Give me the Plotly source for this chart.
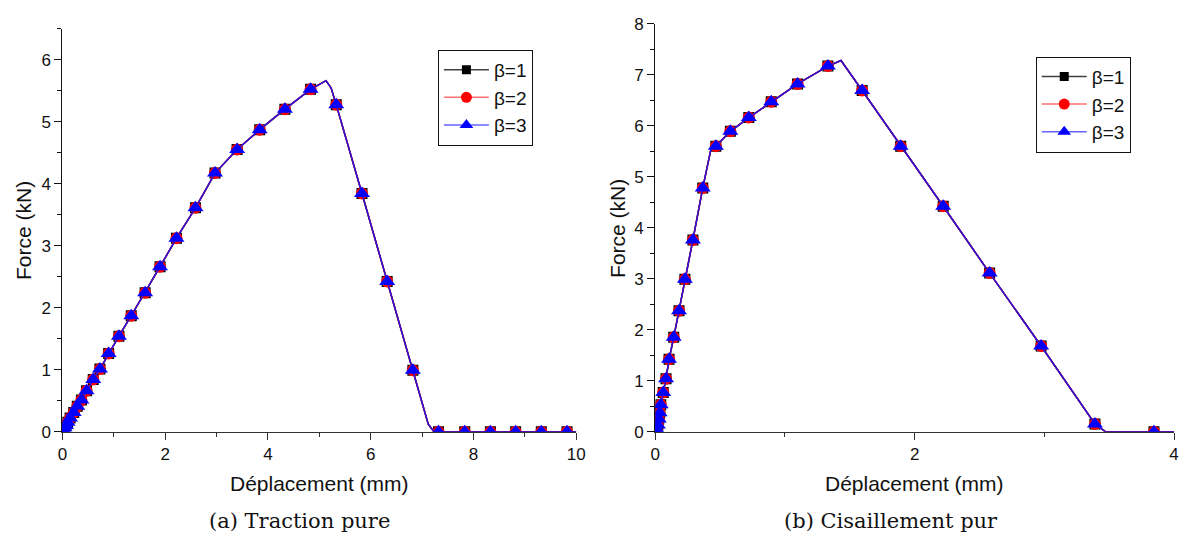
import plotly.graph_objects as go

# ---------------- data ----------------
# (a) Traction pure : displacement (mm), force (kN); mark = 1 where a symbol is drawn
disp_a = [0, 0.02, 0.04, 0.07, 0.10, 0.15, 0.22, 0.29, 0.37, 0.47, 0.60, 0.73, 0.90, 1.10,
          1.34, 1.61, 1.90, 2.22, 2.59, 2.97, 3.40, 3.84, 4.33, 4.83, 5.13, 5.23, 5.33,
          5.83, 6.32, 6.82, 7.12, 7.23, 7.32, 7.83, 8.33, 8.82, 9.32, 9.82, 10.0]
force_a = [0, 0.03, 0.06, 0.10, 0.15, 0.22, 0.31, 0.41, 0.51, 0.66, 0.84, 1.01, 1.26, 1.54,
           1.87, 2.24, 2.66, 3.12, 3.61, 4.17, 4.55, 4.87, 5.20, 5.52, 5.66, 5.54, 5.27,
           3.84, 2.42, 0.99, 0.12, 0, 0, 0, 0, 0, 0, 0, 0]
mark_a = [1, 1, 1, 1, 1, 1, 1, 1, 1, 1, 1, 1, 1, 1,
          1, 1, 1, 1, 1, 1, 1, 1, 1, 1, 0, 0, 1,
          1, 1, 1, 0, 0, 1, 1, 1, 1, 1, 1, 0]

# (b) Cisaillement pur
disp_b = [0, 0.01, 0.02, 0.027, 0.034, 0.042, 0.061, 0.083, 0.106, 0.142, 0.183, 0.228,
          0.29, 0.366, 0.43, 0.467, 0.579, 0.721, 0.894, 1.097, 1.331, 1.432, 1.595,
          1.892, 2.22, 2.578, 2.975, 3.39, 3.47, 3.845, 4.0]
force_b = [0, 0.05, 0.13, 0.25, 0.37, 0.53, 0.77, 1.04, 1.42, 1.85, 2.37, 2.99,
           3.76, 4.78, 5.55, 5.60, 5.89, 6.16, 6.47, 6.82, 7.17, 7.28, 6.69,
           5.60, 4.42, 3.11, 1.68, 0.15, 0, 0, 0]
mark_b = [1, 1, 1, 1, 1, 1, 1, 1, 1, 1, 1, 1,
          1, 1, 0, 1, 1, 1, 1, 1, 1, 0, 1,
          1, 1, 1, 1, 1, 0, 1, 0]

series_names = ["β=1", "β=2", "β=3"]

x_ticks_a = [0, 2, 4, 6, 8, 10]
y_ticks_a = [0, 1, 2, 3, 4, 5, 6]
x_ticks_b = [0, 2, 4]
y_ticks_b = [0, 1, 2, 3, 4, 5, 6, 7, 8]

# ---------------- styles ----------------
line_colors = ["#000000", "#ff0000", "#0000ff"]
main_line_colors = ["#000000", "#ff0000", "#2a10e0"]
legend_line_colors = ["#404040", "#ff7070", "#6464ff"]
symbols = ["square", "circle", "triangle-up"]
msizes = [11, 12, 14]
legend_msizes = [9, 11, 12]

# the page keeps the browser's 8px body margin, so the figure is 16px smaller
OFF = 8
W, H = 1197 - 2 * OFF, 549 - 2 * OFF


def px(x):
    return (x - OFF) / W


def py(y):
    return 1 - (y - OFF) / H


SANS = "Liberation Sans, Arial, sans-serif"
SERIF = "DejaVu Serif, serif"

fig = go.Figure()

panels = [
    (disp_a, force_a, mark_a, "x", "y", "legend"),
    (disp_b, force_b, mark_b, "x2", "y2", "legend2"),
]

for xs, ys, mk, xa, ya, lg in panels:
    for i, name in enumerate(series_names):
        fig.add_trace(go.Scatter(
            x=xs, y=ys, mode="lines", xaxis=xa, yaxis=ya, showlegend=False,
            line=dict(color=main_line_colors[i], width=1.5), hoverinfo="skip"))
        mx = [v for v, m in zip(xs, mk) if m]
        my = [v for v, m in zip(ys, mk) if m]
        fig.add_trace(go.Scatter(
            x=mx, y=my, mode="markers", xaxis=xa, yaxis=ya, showlegend=False,
            marker=dict(symbol=symbols[i], size=msizes[i], color=line_colors[i],
                        line=dict(width=0)), name=name))
    for i, name in enumerate(series_names):
        fig.add_trace(go.Scatter(
            x=[None], y=[None], mode="lines+markers", xaxis=xa, yaxis=ya, name=name,
            legend=lg, showlegend=True,
            line=dict(color=legend_line_colors[i], width=1.5),
            marker=dict(symbol=symbols[i], size=legend_msizes[i], color=line_colors[i],
                        line=dict(width=0))))


def axis(domain, rng, tickvals, minor_dtick, anchor, color):
    return dict(
        domain=domain, range=rng, anchor=anchor, tickmode="array", tickvals=tickvals,
        ticks="outside", ticklen=7, tickwidth=1.2, tickcolor=color,
        minor=dict(dtick=minor_dtick, tick0=0, ticks="outside", ticklen=4,
                   tickwidth=1.2, tickcolor=color, showgrid=False),
        showline=True, linecolor=color, linewidth=1.3, showgrid=False, zeroline=False,
        ticklabeloverflow="allow",
        tickfont=dict(family=SANS, size=17, color="#111111"), fixedrange=True)


legend_common = dict(xanchor="left", yanchor="top", bordercolor="#111111", borderwidth=1,
                     bgcolor="white", font=dict(family=SANS, size=19, color="#111111"),
                     tracegroupgap=0, itemwidth=45)

fig.update_layout(
    width=W, height=H, margin=dict(l=0, r=0, t=0, b=0),
    paper_bgcolor="white", plot_bgcolor="white",
    xaxis=axis([px(58), px(578)], [0, 10], x_ticks_a, 1, "y", "#333333"),
    yaxis=axis([py(438), py(20)], [0, 6.5], y_ticks_a, 0.5, "x", "#111111"),
    xaxis2=axis([px(658), px(1183)], [0, 4], x_ticks_b, 1, "y2", "#333333"),
    yaxis2=axis([py(438), py(15)], [0, 8], y_ticks_b, 0.5, "x2", "#111111"),
    legend=dict(x=px(438), y=py(42), **legend_common),
    legend2=dict(x=px(1043), y=py(49), **legend_common),
    showlegend=True,
)

annots = [
    dict(text="Force (kN)", x=px(18), y=py(229), textangle=-90,
         font=dict(family=SANS, size=21, color="#111111")),
    dict(text="Force (kN)", x=px(619), y=py(227), textangle=-90,
         font=dict(family=SANS, size=21, color="#111111")),
    dict(text="Déplacement (mm)", x=px(318), y=py(492),
         font=dict(family=SANS, size=21, color="#111111")),
    dict(text="Déplacement (mm)", x=px(920), y=py(492),
         font=dict(family=SANS, size=21, color="#111111")),
    dict(text="(a) Traction pure", x=px(298), y=py(531),
         font=dict(family=SERIF, size=21, color="#111111")),
    dict(text="(b) Cisaillement pur", x=px(897), y=py(531),
         font=dict(family=SERIF, size=21, color="#111111")),
]
for a in annots:
    a.update(xref="paper", yref="paper", showarrow=False, xanchor="center", yanchor="middle")
    fig.add_annotation(**a)

fig.write_html("out.html", config={"displayModeBar": False})
